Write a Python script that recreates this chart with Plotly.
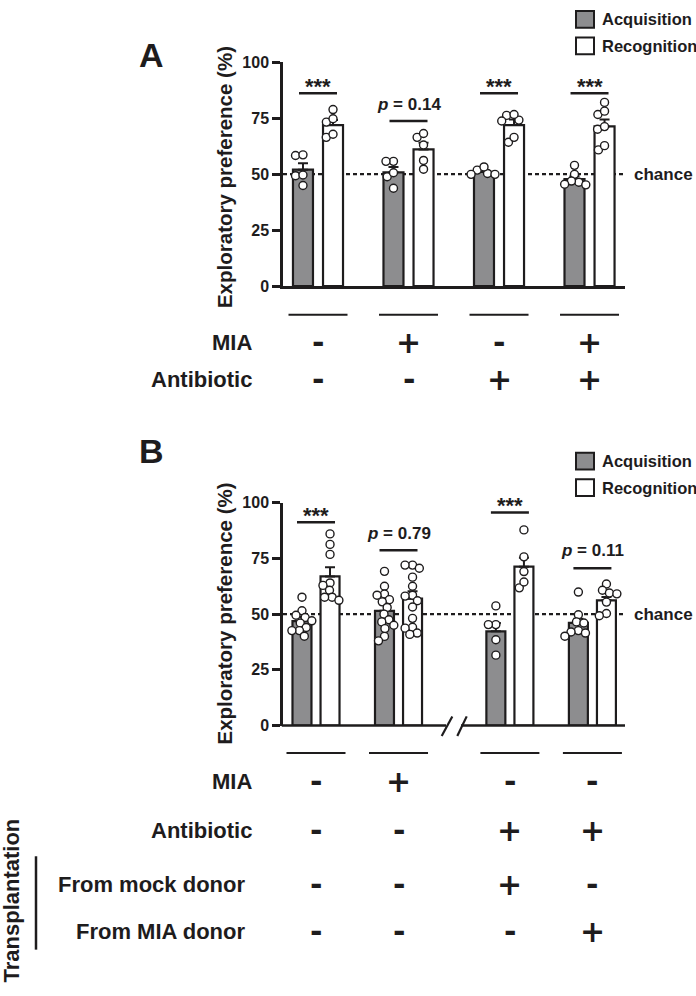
import math
import plotly.graph_objects as go

# ---------------- data ----------------
series_names = ["Acquisition", "Recognition"]

# Panel A
A_acq_mean = [52.0, 50.8, 51.0, 47.8]
A_acq_sem = [2.8, 2.4, 0.6, 1.2]
A_rec_mean = [71.9, 61.0, 71.9, 71.3]
A_rec_sem = [2.3, 3.0, 2.5, 3.1]
A_acq_points = [
    [58.3, 58.6, 49.3, 49.6, 44.9],
    [55.7, 55.7, 48.8, 50.6, 43.7],
    [50.3, 51.8, 53.2, 49.9, 49.9],
    [53.9, 49.9, 46.4, 46.9, 45.5, 45.2],
]
A_rec_points = [
    [78.8, 73.2, 74.7, 66.4, 67.8],
    [66.4, 68.1, 63.0, 56.1, 52.2],
    [74.1, 76.2, 76.6, 73.7, 64.2, 66.4],
    [82.0, 76.6, 78.1, 70.0, 71.2, 60.8, 62.7],
]
A_sig_text = ["***", "<i>p</i> = 0.14", "***", "***"]
A_MIA = ["-", "+", "-", "+"]
A_ABX = ["-", "-", "+", "+"]

# Panel B
B_acq_mean = [46.9, 51.5, 42.3, 46.1]
B_acq_sem = [1.8, 2.9, 3.7, 1.8]
B_rec_mean = [66.9, 57.0, 71.3, 56.2]
B_rec_sem = [4.1, 3.3, 4.0, 1.5]
B_acq_points = [
    [57.6, 51.5, 49.5, 48.5, 47.0, 46.0, 44.0, 42.6, 42.6, 40.1],
    [69.2, 62.5, 59.0, 58.5, 56.5, 55.5, 53.0, 50.0, 47.5, 46.5, 45.0, 43.5, 40.0, 38.0],
    [53.7, 45.3, 45.3, 38.5, 31.6],
    [59.9, 49.7, 46.5, 46.0, 42.6, 42.0, 41.5, 40.1],
]
B_rec_points = [
    [86.0, 81.3, 76.8, 64.0, 62.9, 60.7, 57.6, 57.6, 56.2],
    [72.0, 72.0, 70.6, 66.6, 62.5, 58.5, 58.1, 56.0, 53.2, 48.1, 44.1, 43.7, 41.5, 40.9],
    [87.8, 75.7, 69.1, 61.8, 64.4],
    [63.5, 60.7, 59.5, 59.1, 55.4, 50.3, 49.3],
]
B_sig_text = ["***", "<i>p</i> = 0.79", "***", "<i>p</i> = 0.11"]
B_MIA = ["-", "+", "-", "-"]
B_ABX = ["-", "-", "+", "+"]
B_MOCK = ["-", "-", "+", "-"]
B_MIADONOR = ["-", "-", "-", "+"]

chance_level = 50
y_ticks = [0, 25, 50, 75, 100]

# ---------------- layout helpers ----------------
W, H = 696, 996
FONT = "Liberation Sans, Arial, Helvetica, sans-serif"
SIGN_FONT = "DejaVu Sans, Liberation Sans, sans-serif"
INK = "#1e1c1d"
GRAY = "#8d8d8f"


def fx(x):
    return x / W


def fy(y):
    return 1 - y / H


def swarm(vals, ux, uy, d=7.5):
    n = len(vals)
    order = sorted(range(n), key=lambda i: -vals[i])
    placed = []
    offs = [0.0] * n
    for i in order:
        y = vals[i] * uy
        cands = [0.0]
        for xj, yj in placed:
            dy = abs(y - yj)
            if dy < d:
                dx = math.sqrt(d * d - dy * dy)
                cands += [xj + dx, xj - dx]
        cands.sort(key=lambda c: (abs(c), c))
        chosen = cands[-1]
        for c in cands:
            if all(math.hypot(c - xj, y - yj) >= d - 1e-6 for xj, yj in placed):
                chosen = c
                break
        placed.append((chosen, y))
        offs[i] = chosen / ux
    return offs


fig = go.Figure()
annotations = []
shapes = []


def text(x, y, t, size, xref="paper", yref="paper", xanchor="center", yanchor="middle", family=FONT, **kw):
    annotations.append(dict(xref=xref, yref=yref, x=x, y=y, xanchor=xanchor, yanchor=yanchor,
                            text=t, showarrow=False, font=dict(family=family, size=size, color=INK), **kw))


def panel(xa, ya, pos, xpx_unit, ypx_unit, off, bw, acq_mean, acq_sem, rec_mean, rec_sem,
          acq_pts, rec_pts, sig_text, sig_y, sig_shift):
    xs_a = [p - off for p in pos]
    xs_r = [p + off for p in pos]
    for xs, means, sems, col in [(xs_a, acq_mean, acq_sem, GRAY), (xs_r, rec_mean, rec_sem, "white")]:
        fig.add_trace(go.Bar(
            x=xs, y=means, width=bw, xaxis=xa, yaxis=ya,
            marker=dict(color=col, line=dict(color=INK, width=2.2)),
            error_y=dict(type="data", symmetric=False, array=sems, arrayminus=[0] * len(sems),
                         color=INK, thickness=2, width=5),
            showlegend=False, hoverinfo="skip"))
    for xs, pts in [(xs_a, acq_pts), (xs_r, rec_pts)]:
        px_, py_ = [], []
        for xc, vals in zip(xs, pts):
            offs = swarm(vals, xpx_unit, ypx_unit)
            px_ += [xc + o for o in offs]
            py_ += vals
        fig.add_trace(go.Scatter(
            x=px_, y=py_, mode="markers", xaxis=xa, yaxis=ya, cliponaxis=False,
            marker=dict(symbol="circle", size=8, color="white", line=dict(color=INK, width=1.4)),
            showlegend=False, hoverinfo="skip"))
    half = 19 / xpx_unit
    for p, t, yv, sh in zip(pos, sig_text, sig_y, sig_shift):
        shapes.append(dict(type="line", xref=xa, yref=ya, x0=p - half, x1=p + half, y0=yv, y1=yv,
                           line=dict(color=INK, width=2.5)))
        star = t == "***"
        text(p, yv, "<b>" + t + "</b>", 22 if star else 17, xref=xa, yref=ya, yshift=sh)
    # chance line
    shapes.append(dict(type="line", xref=xa + " domain", yref=ya, x0=0, x1=1, y0=chance_level,
                       y1=chance_level, layer="below", line=dict(color=INK, width=2.2, dash="4px,3px")))
    text(1, chance_level, "<b>chance</b>", 17, xref=xa + " domain", yref=ya, xanchor="left", xshift=7)


# Panel A
A_pos = [0, 1, 2, 3]
panel("x", "y", A_pos, 90.5, 2.28, 0.166, 0.221, A_acq_mean, A_acq_sem, A_rec_mean, A_rec_sem,
      A_acq_points, A_rec_points, A_sig_text, [86.1, 73.7, 86.1, 86.1], [7, 17, 7, 7])
# Panel B
B_pos = [0, 1, 2.35, 3.35]
panel("x2", "y2", B_pos, 82.5, 2.267, 0.17, 0.23, B_acq_mean, B_acq_sem, B_rec_mean, B_rec_sem,
      B_acq_points, B_rec_points, B_sig_text, [91.2, 78.7, 95.6, 70.6], [7, 17, 7, 18])

# broken x axis of panel B
yb = fy(730)
for x0, x1 in [(283 - 1.2, 446), (461, 625)]:
    shapes.append(dict(type="line", xref="paper", yref="paper", x0=fx(x0), x1=fx(x1), y0=yb, y1=yb,
                       line=dict(color=INK, width=2.5)))
for x0, x1 in [(441.7, 452.3), (457.3, 466.7)]:
    shapes.append(dict(type="line", xref="paper", yref="paper", x0=fx(x0), x1=fx(x1),
                       y0=fy(740.7), y1=fy(720.7), line=dict(color=INK, width=2.2)))


# condition tables
def table(xa, pos, half_px, unit, line_y, rows):
    for p in pos:
        shapes.append(dict(type="line", xref=xa, yref="paper", x0=p - half_px / unit, x1=p + half_px / unit,
                           y0=fy(line_y), y1=fy(line_y), line=dict(color=INK, width=2)))
    for label, signs, ry, rx in rows:
        text(fx(rx), fy(ry), "<b>" + label + "</b>", 22, xanchor="right")
        for p, s in zip(pos, signs):
            text(p, fy(ry), "<b>" + s + "</b>", 30, xref=xa, family=SIGN_FONT)


table("x", A_pos, 29.5, 90.5, 312, [("MIA", A_MIA, 340, 254), ("Antibiotic", A_ABX, 378, 254)])
table("x2", B_pos, 29.5, 82.5, 758, [("MIA", B_MIA, 787, 254), ("Antibiotic", B_ABX, 837, 254),
                                     ("From mock donor", B_MOCK, 892, 247),
                                     ("From MIA donor", B_MIADONOR, 940, 247)])

# Transplantation bracket
shapes.append(dict(type="line", xref="paper", yref="paper", x0=fx(36), x1=fx(36), y0=fy(863), y1=fy(958),
                   line=dict(color=INK, width=2.5)))
text(fx(12), fy(908), "<b>Transplantation</b>", 22, textangle=-90)

# panel letters, y titles, legends
for letter, ly, ty, legy in [("A", 48, 172, 11.5), ("B", 451, 616, 461)]:
    text(fx(151), fy(ly), "<b>" + letter + "</b>", 34)
    text(fx(224), fy(ty), "<b>Exploratory preference (%)</b>", 20.5, textangle=-90)
    for k, (name, col) in enumerate(zip(series_names, [GRAY, "white"])):
        cy = legy + 27 * k
        shapes.append(dict(type="rect", xref="paper", yref="paper", x0=fx(576), x1=fx(594),
                           y0=fy(cy - 8.5), y1=fy(cy + 8.5), fillcolor=col,
                           line=dict(color=INK, width=2)))
        text(fx(600), fy(cy), "<b>" + name + "</b>", 16.5, xanchor="left")

xcommon = dict(showgrid=False, zeroline=False, showticklabels=False, ticks="", fixedrange=True)
ycommon = dict(range=[0, 100], tickvals=y_ticks, ticks="outside", ticklen=8, tickwidth=2.5,
               tickcolor=INK, showline=True, linewidth=2.5, linecolor=INK, showgrid=False,
               zeroline=False, fixedrange=True,
               tickfont=dict(family=FONT, size=16, color=INK, weight="bold"))

fig.update_layout(
    width=W, height=H, margin=dict(l=0, r=0, t=0, b=0),
    paper_bgcolor="white", plot_bgcolor="rgba(0,0,0,0)", barmode="overlay", showlegend=False,
    xaxis=dict(domain=[fx(283), fx(625)], range=[-0.3867, 3.392], showline=True, linewidth=2.5,
               linecolor=INK, anchor="y", **xcommon),
    yaxis=dict(domain=[fy(283), fy(55)], anchor="x", **ycommon),
    xaxis2=dict(domain=[fx(283), fx(625)], range=[-0.4, 3.745], showline=False, anchor="y2", **xcommon),
    yaxis2=dict(domain=[fy(730), fy(503.3)], anchor="x2", **ycommon),
    annotations=annotations, shapes=shapes,
)

fig.write_html("out.html", config={"displayModeBar": False},
               post_script="document.body.style.margin='0';document.body.style.overflow='hidden';")
